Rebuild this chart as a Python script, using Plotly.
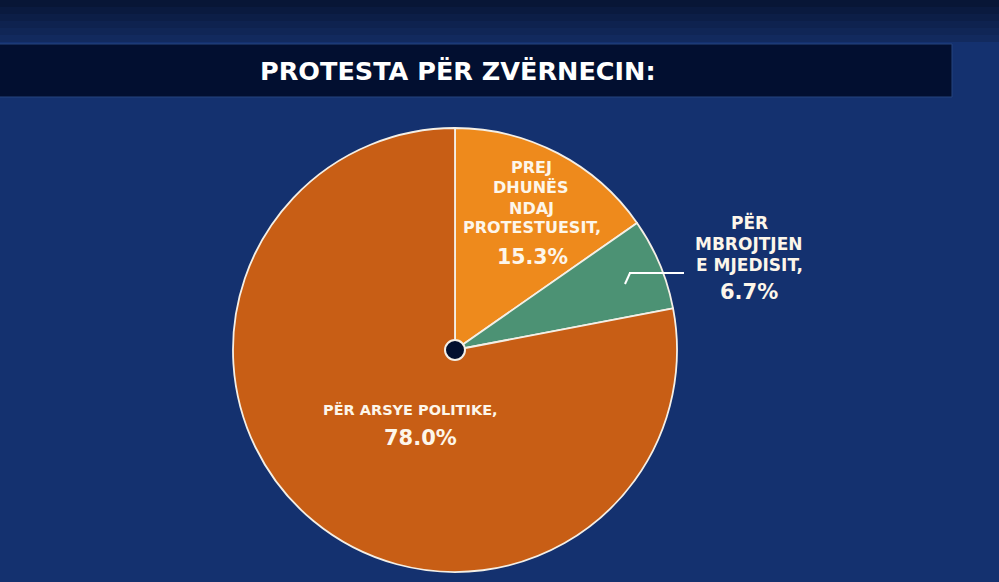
import plotly.graph_objects as go

# Data
categories = ["PREJ DHUNËS NDAJ PROTESTUESIT", "PËR MBROJTJEN E MJEDISIT", "PËR ARSYE POLITIKE"]
values = [15.3, 6.7, 78.0]
colors = ["#ee8a1c", "#4c9274", "#c85e15"]
title_text = "PROTESTA PËR ZVËRNECIN:"

W, H = 999, 582
def px(x):
    return x / W
def py(y):
    return 1 - y / H

FONT = "DejaVu Sans"

fig = go.Figure()
fig.add_trace(go.Pie(
    labels=categories,
    values=values,
    sort=False,
    direction="clockwise",
    rotation=0,
    marker=dict(colors=colors, line=dict(color="#f4efe6", width=1.8)),
    textinfo="none",
    hoverinfo="label+percent",
    showlegend=False,
    domain=dict(x=[px(233), px(677)], y=[py(572), py(128)]),
))

shapes = []
# darker top gradient band
band_cols = ["#081636", "#0a1a3f", "#0c1e47", "#0e224f", "#102656", "#122a5e"]
for i, c in enumerate(band_cols):
    shapes.append(dict(type="rect", xref="paper", yref="paper", x0=0, x1=1,
                       y0=py(7 * (i + 1)), y1=py(7 * i),
                       fillcolor=c, line=dict(width=0), layer="below"))
shapes += [
    # title bar
    dict(type="rect", xref="paper", yref="paper", x0=px(-5), x1=px(952), y0=py(97), y1=py(44),
         fillcolor="#020f30", line=dict(color="#24457f", width=1), layer="below"),
    # center dot
    dict(type="circle", xref="paper", yref="paper", x0=px(445), x1=px(465), y0=py(360), y1=py(340),
         fillcolor="#03102e", line=dict(color="#f4efe6", width=2)),
    # leader line for green slice
    dict(type="line", xref="paper", yref="paper", x0=px(625), y0=py(284), x1=px(630), y1=py(273),
         line=dict(color="#ffffff", width=2)),
    dict(type="line", xref="paper", yref="paper", x0=px(629), y0=py(273), x1=px(684), y1=py(273),
         line=dict(color="#ffffff", width=2)),
]

def ann(x, y, text, size):
    return dict(xref="paper", yref="paper", x=px(x), y=py(y), text=text, showarrow=False,
                xanchor="center", yanchor="middle",
                font=dict(family=FONT, size=size, color="#fdf6ea", weight="bold"))

annotations = [
    dict(xref="paper", yref="paper", x=px(458), y=py(71), text=title_text, showarrow=False,
         xanchor="center", yanchor="middle",
         font=dict(family=FONT, size=25.5, color="#ffffff", weight="bold")),
    ann(531, 167, "PREJ", 16),
    ann(531, 188, "DHUNËS", 16),
    ann(531, 208, "NDAJ", 16),
    ann(532, 228, "PROTESTUESIT,", 16),
    ann(532, 257, "15.3%", 20.5),
    ann(749, 223, "PËR", 17),
    ann(749, 244, "MBROJTJEN", 17),
    ann(749, 265, "E MJEDISIT,", 17),
    ann(749, 292, "6.7%", 21),
    ann(410, 410, "PËR ARSYE POLITIKE,", 14.5),
    ann(420, 438, "78.0%", 21),
]

fig.update_layout(
    width=W, height=H,
    margin=dict(l=0, r=0, t=0, b=0),
    paper_bgcolor="#14316f",
    plot_bgcolor="#14316f",
    shapes=shapes,
    annotations=annotations,
)

fig.write_html("out.html")
